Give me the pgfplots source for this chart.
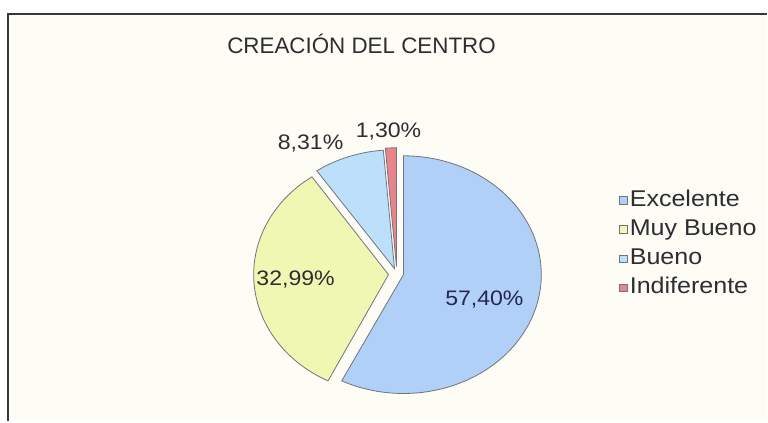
\documentclass[border=0pt]{standalone}
\usepackage{pgfplots}
\pgfplotsset{compat=1.18}
\usepackage{fontspec}
\setmainfont{Liberation Sans}[FakeStretch=1.1]
\newfontfamily\titlefont{Liberation Sans}
\definecolor{cExc}{RGB}{176,208,248}
\definecolor{cMuy}{RGB}{240,247,178}
\definecolor{cBue}{RGB}{188,224,250}
\definecolor{cInd}{RGB}{232,132,140}
\definecolor{edge}{RGB}{115,115,125}
\definecolor{bgc}{RGB}{253,252,245}
\definecolor{txt}{RGB}{45,45,50}
% percentages
\def\vExc{57.40}
\def\vMuy{32.99}
\def\vBue{8.31}
\def\vInd{1.30}
\pgfmathsetmacro\aA{3.6*\vExc}
\pgfmathsetmacro\aB{3.6*(\vExc+\vMuy)}
\pgfmathsetmacro\aC{3.6*(\vExc+\vMuy+\vBue)}
\begin{document}
\begin{tikzpicture}
\begin{axis}[
  x=0.5pt, y=0.5pt,
  xmin=0, xmax=768, ymin=0, ymax=422,
  hide axis, clip=false,
  axis background/.style={fill=white},
  legend cell align=left,
  legend image code/.code={\draw[#1,draw=edge,line width=0.4pt] (0pt,-1.8pt) rectangle (4pt,2pt);},
  legend style={at={(axis cs:613,237)}, anchor=north west, draw=none, fill=none,
    font=\fontsize{11.4}{13}\selectfont\color{txt},
    nodes={inner sep=0.6pt, text height=8pt, text depth=2.3pt},
    row sep=3.1pt, column sep=0.6pt},
]
\fill[bgc] (axis cs:8,0) rectangle (axis cs:768,408);
\draw[black!78, line width=1pt] (axis cs:8,0) -- (axis cs:8,408) -- (axis cs:768,408);

\addplot[fill=cExc, draw=edge, line width=0.4pt, domain=0:\aA, samples=120]
  ({404+138*sin(x)},{147+119*cos(x)}) -- (axis cs:404,147) -- cycle;
\addplot[fill=cMuy, draw=edge, line width=0.4pt, domain=\aA:\aB, samples=80]
  ({389+135*sin(x)},{147+119*cos(x)}) -- (axis cs:389,147) -- cycle;
\addplot[fill=cBue, draw=edge, line width=0.4pt, domain=\aB:\aC, samples=40]
  ({395+137*sin(x)},{153+119*cos(x)}) -- (axis cs:395,153) -- cycle;
\addplot[fill=cInd, draw=edge, line width=0.4pt, domain=\aC:360, samples=10]
  ({397+137*sin(x)},{155+119*cos(x)}) -- (axis cs:397,155) -- cycle;
\legend{Excelente, Muy Bueno, Bueno, Indiferente}

\node[txt, font=\titlefont\fontsize{11.2}{13}\selectfont] at (axis cs:362,378) {CREACIÓN DEL CENTRO};
\node[txt!85!blue, font=\fontsize{10.5}{12}\selectfont] at (axis cs:485,122) {57,40\%};
\node[txt, font=\fontsize{10.5}{12}\selectfont] at (axis cs:296,142) {32,99\%};
\node[txt, font=\fontsize{10.5}{12}\selectfont] at (axis cs:311,278) {8,31\%};
\node[txt, font=\fontsize{10.5}{12}\selectfont] at (axis cs:389,290) {1,30\%};
\end{axis}
\end{tikzpicture}
\end{document}
